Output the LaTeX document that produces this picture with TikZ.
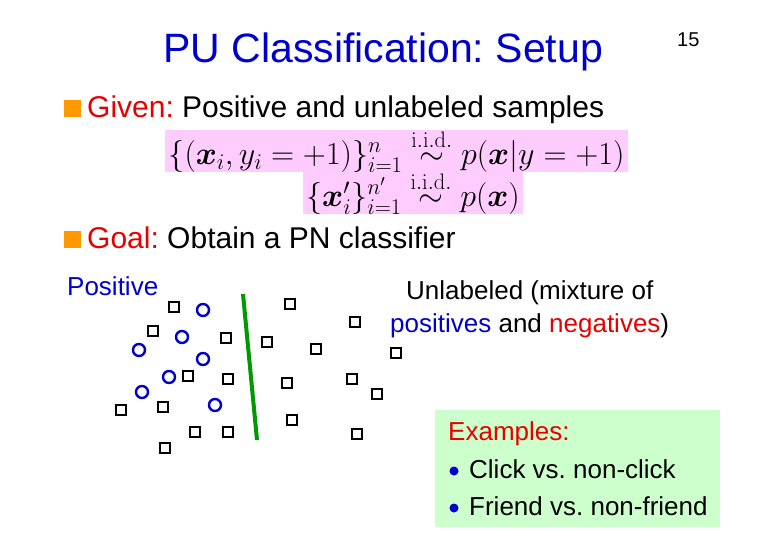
\RequirePackage{fix-cm}
\documentclass[tikz,border=0pt]{standalone}
\usepackage{amsmath}
\usepackage{bm}
\usepackage[no-math]{fontspec}
\setmainfont{Liberation Sans}
\frenchspacing
\definecolor{titleblue}{RGB}{0,0,204}
\definecolor{hlred}{RGB}{230,0,0}
\definecolor{bulletorange}{RGB}{255,153,0}
\definecolor{formulapink}{RGB}{255,204,255}
\definecolor{exgreen}{RGB}{204,255,204}
\definecolor{sepgreen}{RGB}{0,153,0}
\begin{document}
\begin{tikzpicture}[
    x=1pt, y=-1pt,
    txt/.style={inner sep=0pt, anchor=base west},
    body/.style={txt, font=\fontsize{30}{35}\selectfont},
    smalltxt/.style={txt, font=\fontsize{26}{30}\selectfont},
    sqbullet/.style={fill=bulletorange, minimum size=17pt, inner sep=0pt},
    dotbullet/.style={circle, fill=titleblue, minimum size=9pt, inner sep=0pt},
    formula/.style={fill=formulapink, inner sep=0pt, minimum height=38pt, font=\fontsize{32}{37}\selectfont},
    unlbox/.style={draw=black, line width=1.8pt, minimum size=10.2pt, inner sep=0pt},
    posring/.style={circle, draw=titleblue, line width=2.4pt, minimum size=12pt, inner sep=0pt}
]
    \useasboundingbox[fill=white] (0,0) rectangle (777,546);

    % title and page number
    \node[inner sep=0pt, anchor=base west, text=titleblue, font=\fontsize{41}{48}\selectfont]
        (title) at (163,62) {PU Classification: Setup};
    \node[txt, font=\fontsize{20}{24}\selectfont] (page) at (677,46) {15};

    % Given
    \node[sqbullet] (b-given) at (72.5,108) {};
    \node[body] (given) at (87,117) {\textcolor{hlred}{Given:} Positive and unlabeled samples};
    \node[formula, minimum width=463pt] (f-pos) at (396.5,151)
        {$\{(\bm{x}_i, y_i=+1)\}_{i=1}^{n} \stackrel{\mathrm{i.i.d.}}{\sim} p(\bm{x}|y=+1)$};
    \node[formula, minimum width=220pt] (f-unl) at (413,193)
        {$\{\bm{x}'_i\}_{i=1}^{n'} \stackrel{\mathrm{i.i.d.}}{\sim} p(\bm{x})$};

    % Goal
    \node[sqbullet] (b-goal) at (72.5,239.5) {};
    \node[body] (goal) at (87,248) {\textcolor{hlred}{Goal:} Obtain a PN classifier};

    % scatter
    \node[smalltxt, text=titleblue] (lab-pos) at (67,295) {Positive};
    \node[smalltxt] (lab-unl) at (406,299) {Unlabeled (mixture of};
    \node[smalltxt] (lab-mix) at (390,332) {\textcolor{titleblue}{positives} and \textcolor{hlred}{negatives})};
    \foreach \x/\y [count=\i] in {174/307,290/304,153/331,355/322,226/338,267/342,316/349,
        396/353,188/376,228/379,287/383,352/379,377/394,121/410,163/407,292/420,195/432,
        228/432,357/434,165/448}
        \node[unlbox] (u-\i) at (\x,\y) {};
    \foreach \x/\y [count=\i] in {203/310,182/337,139/350,203/359,169/377,142/392,215/405}
        \node[posring] (p-\i) at (\x,\y) {};
    \coordinate (sep-top) at (243,294);
    \coordinate (sep-bot) at (257,440);
    \draw[sepgreen, line width=4pt] (sep-top) -- (sep-bot);

    % examples
    \node[fill=exgreen, minimum width=285pt, minimum height=117pt, inner sep=0pt, anchor=north west]
        (ex-box) at (435,410) {};
    \node[smalltxt, text=hlred] (ex-head) at (448,440) {Examples:};
    \node[dotbullet] (b-click) at (454,471) {};
    \node[smalltxt] (ex-click) at (469,478) {Click vs. non-click};
    \node[dotbullet] (b-friend) at (454,508) {};
    \node[smalltxt] (ex-friend) at (469,515) {Friend vs. non-friend};
\end{tikzpicture}
\end{document}
